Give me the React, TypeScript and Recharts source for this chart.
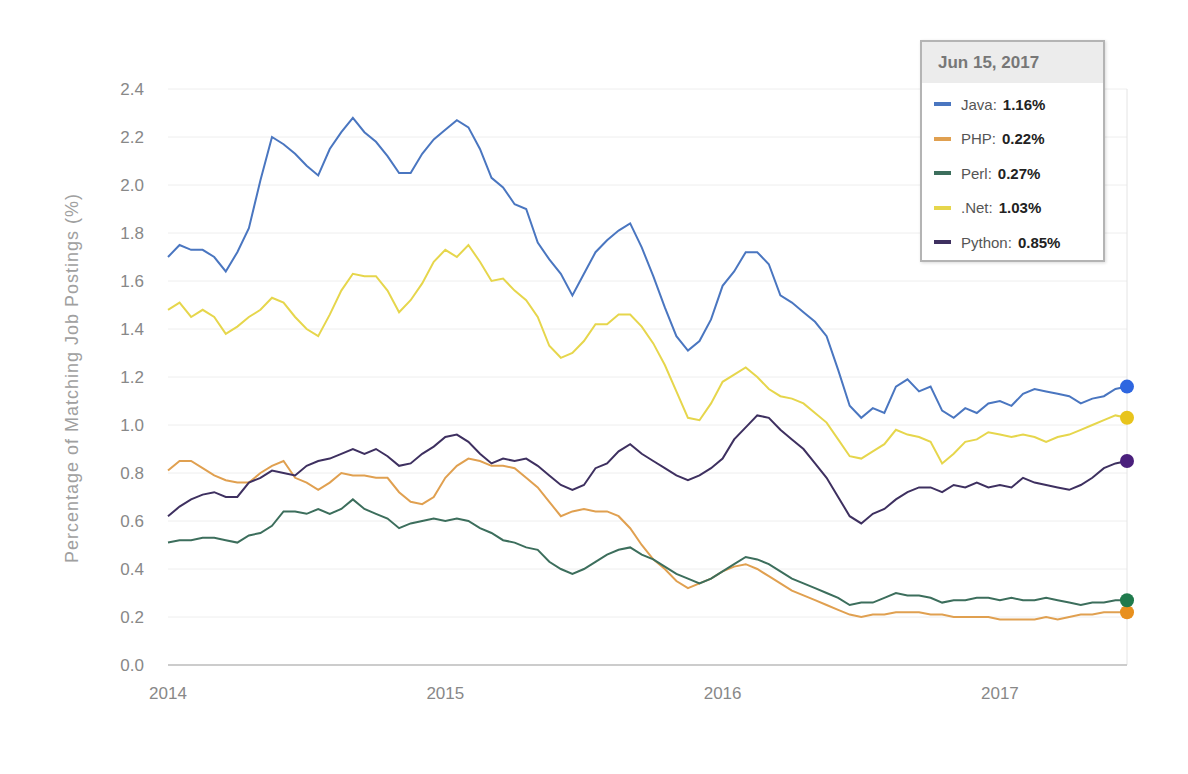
import React from "react";
import { LineChart, Line, XAxis, YAxis, CartesianGrid, ReferenceLine } from "recharts";

// half-month steps from Jan 1 2014 to mid-Jun 2017
const periods = Array.from({ length: 84 }, (_, i) => 2014 + i / 24);
const yearTicks = [2014, 2015, 2016, 2017];
const valueTicks = [0, 0.2, 0.4, 0.6, 0.8, 1.0, 1.2, 1.4, 1.6, 1.8, 2.0, 2.2, 2.4];
const lastDateLabel = "Jun 15, 2017";

const java = [
  1.7, 1.75, 1.73, 1.73, 1.7, 1.64, 1.72, 1.82, 2.02, 2.2, 2.17, 2.13, 2.08, 2.04, 2.15, 2.22, 2.28, 2.22, 2.18, 2.12,
  2.05, 2.05, 2.13, 2.19, 2.23, 2.27, 2.24, 2.15, 2.03, 1.99, 1.92, 1.9, 1.76, 1.69, 1.63, 1.54, 1.63, 1.72, 1.77, 1.81,
  1.84, 1.74, 1.62, 1.49, 1.37, 1.31, 1.35, 1.44, 1.58, 1.64, 1.72, 1.72, 1.67, 1.54, 1.51, 1.47, 1.43, 1.37, 1.23, 1.08,
  1.03, 1.07, 1.05, 1.16, 1.19, 1.14, 1.16, 1.06, 1.03, 1.07, 1.05, 1.09, 1.1, 1.08, 1.13, 1.15, 1.14, 1.13, 1.12, 1.09,
  1.11, 1.12, 1.15, 1.16,
];
const php = [
  0.81, 0.85, 0.85, 0.82, 0.79, 0.77, 0.76, 0.76, 0.8, 0.83, 0.85, 0.78, 0.76, 0.73, 0.76, 0.8, 0.79, 0.79, 0.78, 0.78,
  0.72, 0.68, 0.67, 0.7, 0.78, 0.83, 0.86, 0.85, 0.83, 0.83, 0.82, 0.78, 0.74, 0.68, 0.62, 0.64, 0.65, 0.64, 0.64, 0.62,
  0.57, 0.5, 0.44, 0.4, 0.35, 0.32, 0.34, 0.36, 0.39, 0.41, 0.42, 0.4, 0.37, 0.34, 0.31, 0.29, 0.27, 0.25, 0.23, 0.21,
  0.2, 0.21, 0.21, 0.22, 0.22, 0.22, 0.21, 0.21, 0.2, 0.2, 0.2, 0.2, 0.19, 0.19, 0.19, 0.19, 0.2, 0.19, 0.2, 0.21,
  0.21, 0.22, 0.22, 0.22,
];
const perl = [
  0.51, 0.52, 0.52, 0.53, 0.53, 0.52, 0.51, 0.54, 0.55, 0.58, 0.64, 0.64, 0.63, 0.65, 0.63, 0.65, 0.69, 0.65, 0.63, 0.61,
  0.57, 0.59, 0.6, 0.61, 0.6, 0.61, 0.6, 0.57, 0.55, 0.52, 0.51, 0.49, 0.48, 0.43, 0.4, 0.38, 0.4, 0.43, 0.46, 0.48,
  0.49, 0.46, 0.44, 0.41, 0.38, 0.36, 0.34, 0.36, 0.39, 0.42, 0.45, 0.44, 0.42, 0.39, 0.36, 0.34, 0.32, 0.3, 0.28, 0.25,
  0.26, 0.26, 0.28, 0.3, 0.29, 0.29, 0.28, 0.26, 0.27, 0.27, 0.28, 0.28, 0.27, 0.28, 0.27, 0.27, 0.28, 0.27, 0.26, 0.25,
  0.26, 0.26, 0.27, 0.27,
];
const net = [
  1.48, 1.51, 1.45, 1.48, 1.45, 1.38, 1.41, 1.45, 1.48, 1.53, 1.51, 1.45, 1.4, 1.37, 1.46, 1.56, 1.63, 1.62, 1.62, 1.56,
  1.47, 1.52, 1.59, 1.68, 1.73, 1.7, 1.75, 1.68, 1.6, 1.61, 1.56, 1.52, 1.45, 1.33, 1.28, 1.3, 1.35, 1.42, 1.42, 1.46,
  1.46, 1.41, 1.34, 1.25, 1.14, 1.03, 1.02, 1.09, 1.18, 1.21, 1.24, 1.2, 1.15, 1.12, 1.11, 1.09, 1.05, 1.01, 0.94, 0.87,
  0.86, 0.89, 0.92, 0.98, 0.96, 0.95, 0.93, 0.84, 0.88, 0.93, 0.94, 0.97, 0.96, 0.95, 0.96, 0.95, 0.93, 0.95, 0.96, 0.98,
  1.0, 1.02, 1.04, 1.03,
];
const python = [
  0.62, 0.66, 0.69, 0.71, 0.72, 0.7, 0.7, 0.76, 0.78, 0.81, 0.8, 0.79, 0.83, 0.85, 0.86, 0.88, 0.9, 0.88, 0.9, 0.87,
  0.83, 0.84, 0.88, 0.91, 0.95, 0.96, 0.93, 0.88, 0.84, 0.86, 0.85, 0.86, 0.83, 0.79, 0.75, 0.73, 0.75, 0.82, 0.84, 0.89,
  0.92, 0.88, 0.85, 0.82, 0.79, 0.77, 0.79, 0.82, 0.86, 0.94, 0.99, 1.04, 1.03, 0.98, 0.94, 0.9, 0.84, 0.78, 0.7, 0.62,
  0.59, 0.63, 0.65, 0.69, 0.72, 0.74, 0.74, 0.72, 0.75, 0.74, 0.76, 0.74, 0.75, 0.74, 0.78, 0.76, 0.75, 0.74, 0.73, 0.75,
  0.78, 0.82, 0.84, 0.85,
];

const series = [
  { key: "java", name: "Java", values: java, color: "#4a76c0", dot: "#2e66e0" },
  { key: "php", name: "PHP", values: php, color: "#e0a050", dot: "#e8901e" },
  { key: "perl", name: "Perl", values: perl, color: "#3c6e5c", dot: "#1f7a4c" },
  { key: "net", name: ".Net", values: net, color: "#e6d64c", dot: "#e8c41c" },
  { key: "python", name: "Python", values: python, color: "#3e3060", dot: "#4a1f7c" },
];

const data = periods.map((t, i) => {
  const row: Record<string, number> = { t };
  series.forEach((s) => (row[s.key] = s.values[i]));
  return row;
});

const FONT = '"Liberation Sans", Arial, sans-serif';
const lastIndex = data.length - 1;

const TooltipBox = () => (
  <div
    style={{
      position: "absolute",
      left: 912,
      top: 32,
      width: 181,
      height: 218,
      border: "2px solid #b4b4b4",
      background: "#fff",
      boxShadow: "1px 1px 3px rgba(0,0,0,0.15)",
      fontFamily: FONT,
    }}
  >
    <div
      style={{
        background: "#ececec",
        height: 41,
        lineHeight: "41px",
        paddingLeft: 16,
        fontSize: 17,
        fontWeight: "bold",
        color: "#777",
      }}
    >
      {lastDateLabel}
    </div>
    {series.map((s, i) => (
      <div
        key={s.key}
        style={{ position: "absolute", left: 12, top: 50 + i * 34.5, height: 24, display: "flex", alignItems: "center", fontSize: 15 }}
      >
        <span style={{ display: "inline-block", width: 17, height: 4, background: s.color, marginRight: 10 }} />
        <span style={{ color: "#555" }}>{s.name}:</span>
        <span style={{ color: "#222", fontWeight: "bold", marginLeft: 6 }}>{s.values[lastIndex].toFixed(2)}%</span>
      </div>
    ))}
  </div>
);

export default function App() {
  return (
    <div style={{ position: "relative", width: 1172, height: 758, background: "#fff" }}>
      <LineChart width={1172} height={758} data={data} margin={{ top: 81, right: 53, left: 0, bottom: 61 }}>
        <CartesianGrid vertical={false} stroke="#eeeeee" />
        <XAxis
          dataKey="t"
          type="number"
          domain={[2014, periods[lastIndex]]}
          ticks={yearTicks}
          tickFormatter={(v: number) => String(v)}
          tickLine={false}
          tickSize={0}
          tickMargin={22}
          height={40}
          axisLine={{ stroke: "#cccccc", strokeWidth: 2 }}
          tick={{ fill: "#888", fontSize: 17, fontFamily: FONT }}
        />
        <YAxis
          type="number"
          domain={[0, 2.4]}
          ticks={valueTicks}
          tickFormatter={(v: number) => v.toFixed(1)}
          axisLine={false}
          tickLine={false}
          tickSize={0}
          tickMargin={24}
          width={160}
          tick={{ fill: "#888", fontSize: 17, fontFamily: FONT }}
          label={{
            content: () => (
              <text
                x={65}
                y={370}
                transform="rotate(-90 65 370)"
                textAnchor="middle"
                dominantBaseline="middle"
                fill="#a0a0a0"
                fontSize={18}
                letterSpacing={1}
                fontFamily={FONT}
              >
                Percentage of Matching Job Postings (%)
              </text>
            ),
          }}
        />
        <ReferenceLine x={periods[lastIndex]} stroke="#e4e4e4" strokeWidth={1} />
        {series.map((s) => (
          <Line
            key={s.key}
            dataKey={s.key}
            name={s.name}
            type="linear"
            stroke={s.color}
            strokeWidth={2}
            isAnimationActive={false}
            activeDot={false}
            dot={(p: any) =>
              p.index === lastIndex ? (
                <circle key={`${s.key}-end`} cx={p.cx} cy={p.cy} r={7} fill={s.dot} />
              ) : (
                <g key={`${s.key}-${p.index}`} />
              )
            }
          />
        ))}
      </LineChart>
      <TooltipBox />
    </div>
  );
}
